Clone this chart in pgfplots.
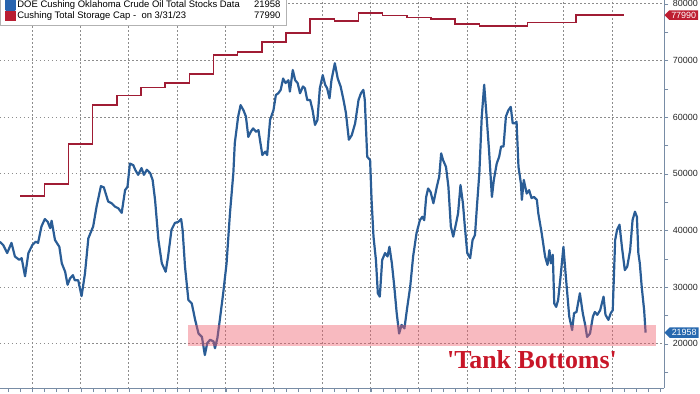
\documentclass[border=0pt]{standalone}
\usepackage{pgfplots}
\pgfplotsset{compat=1.18}
\usepackage{fontspec}
\setmainfont{Liberation Sans}
\newfontfamily\serifbold{Liberation Serif}
\usetikzlibrary{shapes.symbols}
\definecolor{cblue}{RGB}{42,93,150}
\definecolor{cred}{RGB}{160,28,52}
\definecolor{lblue}{RGB}{40,100,175}
\definecolor{lred}{RGB}{185,30,50}
\definecolor{tagblue}{RGB}{40,105,175}
\definecolor{tagred}{RGB}{190,30,50}
\definecolor{axcol}{RGB}{120,140,165}
\definecolor{band}{RGB}{238,90,105}
\definecolor{tbred}{RGB}{200,22,40}
\begin{document}
\begin{tikzpicture}
\begin{axis}[name=ax, scale only axis, width=664.3bp, height=388bp,
  xmin=2010.332, xmax=2024.077, ymin=12181, ymax=80663,
  axis x line*=bottom, axis y line*=right,
  axis line style={axcol, line width=0.8bp},
  xtick={2011,...,2023}, xticklabels={},
  minor xtick={2010.5,2010.75,...,2024},
  ytick={20000,30000,...,80000}, minor ytick={15000,25000,...,75000},
  scaled y ticks=false,
  yticklabel pos=right,
  tick align=outside, major tick length=4bp, minor tick length=4bp,
  every tick/.append style={axcol},
  xmajorgrids=true, ymajorgrids=true,
  major grid style={color=black!45, line width=1bp, dash pattern=on 1.5bp off 2.5bp},
  /pgf/number format/1000 sep={},
  /pgf/number format/assume math mode=true,
  yticklabel style={font=\fontsize{9}{10}\selectfont, text=black!85, xshift=1bp},
  clip=false,
  legend style={at={(axis description cs:0,1)}, anchor=south west, yshift=-25bp, xshift=0.5bp,
    draw=gray!60, fill=white, font=\fontsize{9.5}{10.5}\selectfont,
    inner xsep=4.5bp, inner ysep=3.5bp, row sep=0bp,
    nodes={inner sep=1bp}},
  legend cell align=left,
]
\addplot[cblue, line width=2.2bp, line join=round,
  legend image code/.code={\fill[lblue] (0bp,-4.5bp) rectangle (9bp,4.5bp);}]
coordinates {
(2010.33,38000) (2010.40,37400) (2010.48,36000) (2010.57,37800) (2010.64,35400)
(2010.73,34800) (2010.78,35100) (2010.85,31900) (2010.92,36000) (2011.00,37400)
(2011.07,38000) (2011.12,37800) (2011.19,40700) (2011.26,42000) (2011.32,41500)
(2011.37,40400) (2011.40,41700) (2011.47,38300) (2011.56,37100) (2011.61,34200)
(2011.68,32700) (2011.73,30400) (2011.78,31500) (2011.84,32100) (2011.88,31200)
(2011.95,31200) (2012.02,28400) (2012.09,32400) (2012.16,38600) (2012.26,40700)
(2012.33,44200) (2012.42,47800) (2012.48,47600) (2012.57,45100) (2012.64,44800)
(2012.71,44200) (2012.78,43900) (2012.85,43100) (2012.92,47100) (2012.97,47700)
(2013.02,51800) (2013.09,51500) (2013.13,50700) (2013.19,49800) (2013.26,51000)
(2013.31,49800) (2013.37,50700) (2013.44,50100) (2013.49,48900) (2013.54,45400)
(2013.61,38300) (2013.68,34200) (2013.76,32700) (2013.81,35400) (2013.88,40100)
(2013.95,41300) (2014.02,41500) (2014.08,42000) (2014.11,40100) (2014.16,33600)
(2014.23,27700) (2014.30,27100) (2014.37,24200) (2014.44,21800) (2014.51,21200)
(2014.57,18000) (2014.62,20100) (2014.68,20700) (2014.75,20400) (2014.78,19200)
(2014.83,21000) (2014.88,24200) (2014.95,28900) (2015.02,34200) (2015.09,43000)
(2015.16,50100) (2015.19,55400) (2015.26,60100) (2015.31,62100) (2015.37,61200)
(2015.42,60100) (2015.47,56500) (2015.52,57400) (2015.57,58000) (2015.63,57400)
(2015.68,57700) (2015.71,56000) (2015.76,53300) (2015.82,53900) (2015.86,53300)
(2015.92,59500) (2015.99,61200) (2016.04,63900) (2016.09,64200) (2016.14,64800)
(2016.19,66800) (2016.24,66000) (2016.30,66500) (2016.33,64500) (2016.39,68300)
(2016.44,66500) (2016.49,66000) (2016.54,64200) (2016.60,65400) (2016.64,65100)
(2016.69,63000) (2016.75,63000) (2016.80,61200) (2016.85,58600) (2016.90,59500)
(2016.95,65100) (2017.01,67400) (2017.06,65700) (2017.10,65100) (2017.15,63300)
(2017.19,66500) (2017.26,69500) (2017.32,66800) (2017.38,65400) (2017.44,63000)
(2017.49,60700) (2017.55,56000) (2017.61,56800) (2017.68,58900) (2017.75,63000)
(2017.80,64200) (2017.85,64800) (2017.88,63000) (2017.93,53000) (2017.99,52400)
(2018.02,45400) (2018.06,38900) (2018.11,34800) (2018.15,28900) (2018.19,28300)
(2018.24,34800) (2018.30,36000) (2018.35,35400) (2018.39,37100) (2018.44,34200)
(2018.49,30100) (2018.54,25400) (2018.59,21800) (2018.64,23300) (2018.70,22700)
(2018.75,25900) (2018.82,30100) (2018.88,35400) (2018.95,39500) (2019.02,41800)
(2019.07,42400) (2019.11,41800) (2019.15,45900) (2019.19,47400) (2019.24,46800)
(2019.30,44800) (2019.37,47700) (2019.42,49500) (2019.46,53600) (2019.50,52400)
(2019.56,51200) (2019.61,47700) (2019.66,40700) (2019.71,38900) (2019.77,41300)
(2019.81,43000) (2019.86,48000) (2019.91,44800) (2019.95,40700) (2020.00,36000)
(2020.06,35100) (2020.11,38300) (2020.16,39200) (2020.20,44200) (2020.25,50100)
(2020.30,60100) (2020.35,65700) (2020.40,60100) (2020.45,54200) (2020.51,45900)
(2020.55,48900) (2020.61,51800) (2020.66,53000) (2020.70,54800) (2020.75,54800)
(2020.80,60100) (2020.85,61200) (2020.90,61800) (2020.94,58900) (2020.99,58900)
(2021.02,59200) (2021.06,51200) (2021.11,48300) (2021.13,45400) (2021.17,48900)
(2021.23,46500) (2021.28,47100) (2021.33,45700) (2021.38,45900) (2021.44,45400)
(2021.47,43000) (2021.54,39500) (2021.61,35400) (2021.66,33900) (2021.70,36500)
(2021.73,34200) (2021.77,35700) (2021.80,27100) (2021.84,26500) (2021.88,27700)
(2021.93,31800) (2021.99,37100) (2022.04,31800) (2022.11,24800) (2022.17,22400)
(2022.21,25400) (2022.26,25600) (2022.33,28900) (2022.39,25400) (2022.44,23300)
(2022.48,21200) (2022.54,21800) (2022.60,24800) (2022.64,25600) (2022.69,25100)
(2022.75,25900) (2022.82,28300) (2022.86,25100) (2022.92,24200) (2022.97,25400)
(2023.01,25900) (2023.06,38300) (2023.10,40100) (2023.15,41000) (2023.20,37100)
(2023.26,33000) (2023.31,33600) (2023.37,36500) (2023.42,41800) (2023.47,43300)
(2023.51,42400) (2023.54,36000) (2023.57,34200) (2023.61,30000) (2023.66,25900)
(2023.69,21958)
};
\addlegendentry{\makebox[263bp]{DOE Cushing Oklahoma Crude Oil Total Stocks Data\hfill 21958}}
\addplot[cred, line width=1.6bp, const plot,
  legend image code/.code={\fill[lred] (0bp,-4.5bp) rectangle (9bp,4.5bp);}]
coordinates {
(2010.75,46100) (2011.25,48200) (2011.75,55200) (2012.25,62100) (2012.75,63800)
(2013.25,65200) (2013.75,66000) (2014.25,67600) (2014.75,71000) (2015.25,71500)
(2015.75,73200) (2016.25,74800) (2016.75,77300) (2017.25,77000) (2017.75,78400)
(2018.25,77900) (2018.75,77600) (2019.25,77300) (2019.75,76400) (2020.25,76100)
(2021.25,76700) (2022.25,77990) (2023.25,77990)
};
\addlegendentry{\makebox[263bp]{Cushing Total Storage Cap -\ \ on 3/31/23\hfill 77990}}
\addplot[draw=none, fill=band, fill opacity=0.42, forget plot]
coordinates {(2014.23,19650) (2023.9,19650) (2023.9,23300) (2014.23,23300)} -- cycle;
\node[font=\serifbold\bfseries\fontsize{26}{28}\selectfont, text=tbred]
  at (axis cs:2021.34,17100) {\textquotesingle Tank Bottoms\textquotesingle};
\node[signal, signal to=west, fill=tagred, text=white, font=\fontsize{9}{10}\selectfont,
  inner xsep=2bp, inner ysep=1.5bp, anchor=west] at (axis cs:2024.077,77990) {77990};
\node[signal, signal to=west, fill=tagblue, text=white, font=\fontsize{9}{10}\selectfont,
  inner xsep=2bp, inner ysep=2bp, anchor=west] at (axis cs:2024.077,21958) {21958};
\end{axis}
\pgfresetboundingbox
\useasboundingbox ([yshift=-6bp]ax.south west) rectangle ([xshift=35.7bp]ax.north east);
\end{tikzpicture}
\end{document}
